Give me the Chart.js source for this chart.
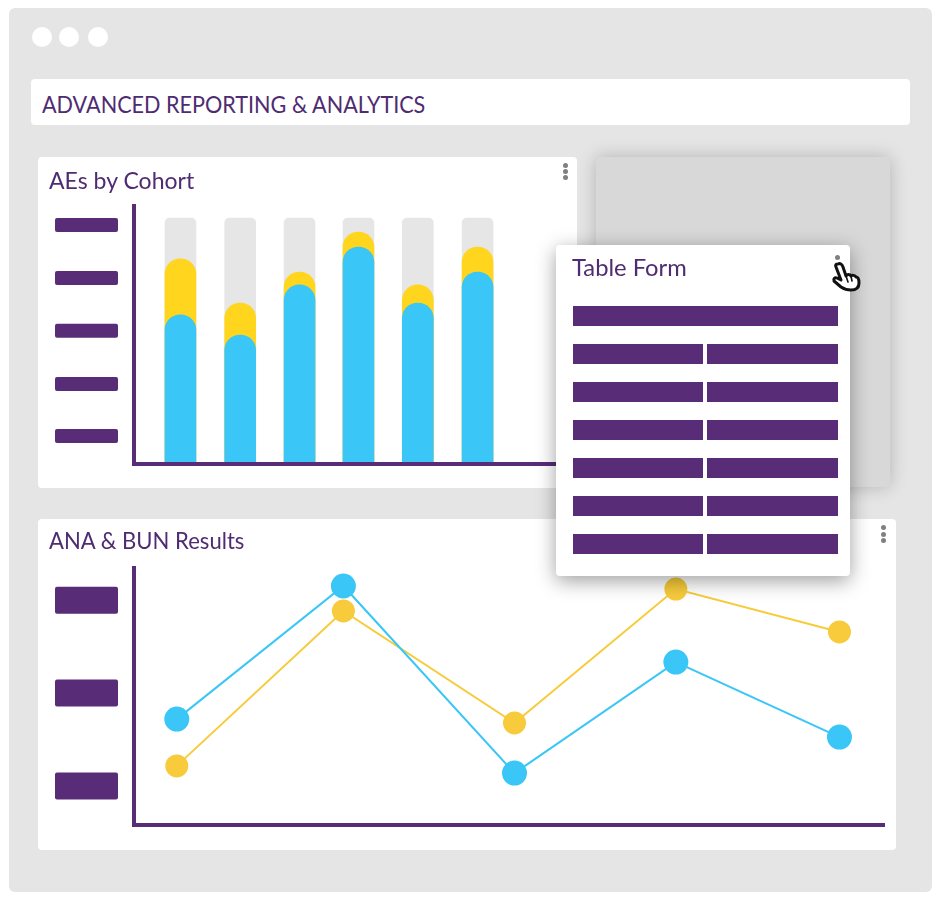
<!DOCTYPE html>
<html>
<head>
<meta charset="utf-8">
<title>Advanced Reporting &amp; Analytics</title>
<script src="https://cdn.jsdelivr.net/npm/chart.js@4/dist/chart.umd.min.js"></script>
<style>
  html, body { margin: 0; padding: 0; background: #fff; }
  body { width: 940px; height: 900px; position: relative; overflow: hidden; font-family: Lato, "Open Sans", sans-serif; color: #4f2c72; }
  .abs { position: absolute; }
  .frame { left: 9px; top: 8px; width: 923px; height: 884px; background: #e5e5e5; border-radius: 6px; }
  .dot { top: 27px; width: 20px; height: 20px; border-radius: 50%; background: #fff; }
  .box { background: #fff; border-radius: 4px; }
  .heading { font-size: 24px; line-height: 30px; white-space: nowrap; transform-origin: left center; }
  .menu { width: 5px; height: 5px; border-radius: 50%; background: #808080; }
  canvas { position: absolute; left: 0; top: 0; }
  .ghost { left: 596px; top: 157px; width: 294px; height: 330px; background: #d8d8d8; border-radius: 4px; box-shadow: 0 0 18px rgba(0,0,0,.22); }
  .popup { left: 556px; top: 245px; width: 294px; height: 331px; background: #fff; border-radius: 4px; box-shadow: 0 5px 20px rgba(0,0,0,.38); }
  .cell { position: absolute; height: 20px; background: #582c77; }
</style>
</head>
<body>
  <div class="abs frame"></div>
  <div class="abs dot" style="left:32px"></div>
  <div class="abs dot" style="left:59px"></div>
  <div class="abs dot" style="left:88px"></div>

  <div class="abs box" style="left:31px;top:79px;width:879px;height:46px"></div>
  <div class="abs heading" style="left:42px;top:89px;transform:scaleX(.9)">ADVANCED REPORTING &amp; ANALYTICS</div>

  <div class="abs box" style="left:38px;top:157px;width:539px;height:331px">
    <canvas id="cohortChart" width="539" height="331"></canvas>
  </div>
  <div class="abs heading" style="left:49px;top:165px;transform:scaleX(.96)">AEs by Cohort</div>
  <div class="abs menu" style="left:563px;top:163px"></div>
  <div class="abs menu" style="left:563px;top:169px"></div>
  <div class="abs menu" style="left:563px;top:175px"></div>

  <div class="abs box" style="left:38px;top:519px;width:858px;height:331px">
    <!-- 2px wider than the card: chart.js keeps room for the last point's overflow -->
    <canvas id="resultsChart" width="860" height="331"></canvas>
  </div>
  <div class="abs heading" style="left:49px;top:525px;transform:scaleX(.92)">ANA &amp; BUN Results</div>
  <div class="abs menu" style="left:881px;top:525px"></div>
  <div class="abs menu" style="left:881px;top:532px"></div>
  <div class="abs menu" style="left:881px;top:538px"></div>

  <div class="abs ghost"></div>
  <div class="abs popup" id="popup"></div>
  <div class="abs heading" style="left:572px;top:252px;z-index:5;transform:scaleX(.99)">Table Form</div>
  <div class="abs menu" style="left:835px;top:255px;z-index:5"></div>
  <div id="tableRows" style="z-index:5"></div>

  <svg class="abs" style="left:825px;top:255px;z-index:6" width="42" height="42" viewBox="825 255 42 42">
    <path d="M838 264c2-1 4 0 5 3l3 9c1-2 4-2 5 0c1-1 4-1 5 1c2 0 3 3 3 6c0 5-3 7-8 7c-4 0-7-1-10-3l-7-6c-1-2 1-4 3-3l4 2l-5-13c-1-2 0-3 2-3z" fill="#fff" stroke="#111" stroke-width="3" stroke-linejoin="round"/>
    <path d="M846 276l2 6M851 276l1 5" fill="none" stroke="#111" stroke-width="1.6" stroke-linecap="round"/>
  </svg>

<script>
  const PURPLE = '#582c77';

  const cohortPositions = [10.8, 24.7, 38.5, 52.2, 66, 79.9];
  const cohortLimit = [95.3, 95.3, 95.3, 95.3, 95.3, 95.3];
  const cohortYellow = [79.5, 62.4, 74.4, 89.9, 69.4, 84.1];
  const cohortBlue = [57.8, 50, 69.4, 84.1, 62.4, 74.4];
  const cohortTickSlots = [92.6, 72.1, 51.6, 31, 10.9];

  const resultPositions = [5.7, 27.9, 50.7, 72.2, 94];
  const resultBlue = [41.2, 93, 20.2, 63.4, 34.2];
  const resultYellow = [23, 83.3, 39.7, 91.8, 75.1];
  const resultTickSlots = [87.5, 51.4, 15.2];

  const tableRowCount = 6;

  function points(xs, ys) {
    return xs.map((x, i) => ({ x, y: ys[i] }));
  }

  // the y labels in the picture are just blocks, so draw a block at every tick
  const tickBlocks = {
    id: 'tickBlocks',
    afterDraw(chart, args, opts) {
      const { ctx, scales } = chart;
      ctx.save();
      ctx.fillStyle = PURPLE;
      scales.y.ticks.forEach((tick) => {
        const y = scales.y.getPixelForValue(tick.value);
        ctx.beginPath();
        ctx.roundRect(opts.left, y - opts.height / 2, opts.width, opts.height, 2);
        ctx.fill();
      });
      ctx.restore();
    },
  };

  function axes(slots) {
    return {
      x: {
        type: 'linear',
        offset: false,
        min: 0,
        max: 100,
        ticks: { display: false },
        grid: { display: false, drawTicks: false },
        border: { display: true, color: PURPLE, width: 4, z: 1 },
      },
      y: {
        min: 0,
        max: 100,
        afterBuildTicks(scale) {
          scale.ticks = slots.map((value) => ({ value }));
        },
        ticks: { display: false },
        grid: { display: false, drawTicks: false },
        border: { display: true, color: PURPLE, width: 4, z: 1 },
      },
    };
  }

  function buildBars() {
    const topRound = { topLeft: 16, topRight: 16, bottomLeft: 0, bottomRight: 0 };
    const bar = { barThickness: 31, borderSkipped: false };

    new Chart(document.getElementById('cohortChart'), {
      type: 'bar',
      plugins: [tickBlocks],
      data: {
        datasets: [
          { ...bar, label: 'Cohort limit', data: points(cohortPositions, cohortLimit), backgroundColor: '#e6e6e6', borderRadius: { topLeft: 5, topRight: 5, bottomLeft: 0, bottomRight: 0 }, order: 3 },
          { ...bar, label: 'Serious', data: points(cohortPositions, cohortYellow), backgroundColor: '#ffd51e', borderRadius: topRound, order: 2 },
          { ...bar, label: 'AEs', data: points(cohortPositions, cohortBlue), backgroundColor: '#3ac6f6', borderRadius: topRound, order: 1 },
        ],
      },
      options: {
        responsive: false,
        animation: false,
        grouped: false,
        layout: { padding: { left: 96, top: 49, right: 13, bottom: 24 } },
        scales: axes(cohortTickSlots),
        plugins: {
          legend: { display: false },
          tooltip: { enabled: false },
          tickBlocks: { left: 17, width: 63, height: 14 },
        },
      },
    });
  }

  function buildLines() {
    new Chart(document.getElementById('resultsChart'), {
      type: 'line',
      plugins: [tickBlocks],
      data: {
        datasets: [
          { label: 'ANA', data: points(resultPositions, resultBlue), borderColor: '#3ac6f6', backgroundColor: '#3ac6f6', borderWidth: 2, pointRadius: 11.5, tension: 0 },
          { label: 'BUN', data: points(resultPositions, resultYellow), borderColor: '#f7cb3b', backgroundColor: '#f7cb3b', borderWidth: 2, pointRadius: 10.5, tension: 0 },
        ],
      },
      options: {
        responsive: false,
        animation: false,
        layout: { padding: { left: 96, top: 49, right: 13, bottom: 25 } },
        scales: axes(resultTickSlots),
        plugins: {
          legend: { display: false },
          tooltip: { enabled: false },
          tickBlocks: { left: 17, width: 63, height: 27 },
        },
      },
    });
  }

  function buildTable() {
    const holder = document.getElementById('tableRows');
    const addCell = (left, top, width) => {
      const cell = document.createElement('div');
      cell.className = 'cell';
      cell.style.cssText = `left:${left}px;top:${top}px;width:${width}px;z-index:5`;
      holder.appendChild(cell);
    };

    addCell(573, 306, 265);
    for (let i = 0; i < tableRowCount; i += 1) {
      addCell(573, 344 + i * 38, 130);
      addCell(707, 344 + i * 38, 131);
    }
  }

  buildBars();
  buildLines();
  buildTable();
</script>
</body>
</html>
